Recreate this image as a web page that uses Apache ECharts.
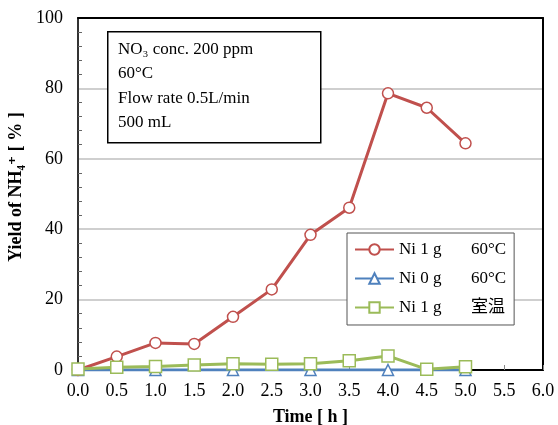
<!DOCTYPE html>
<html>
<head>
<meta charset="utf-8">
<script src="https://cdn.jsdelivr.net/npm/echarts@6/dist/echarts.min.js"></script>
<style>
  html, body { margin: 0; padding: 0; background: #fff; }
  #chart { width: 558px; height: 425px; }
</style>
</head>
<body>
<div id="chart"></div>
<script>
// data
const timesA = [0, 0.5, 1.0, 1.5, 2.0, 2.5, 3.0, 3.5, 4.0, 4.5, 5.0];
const ni1g60 = [0, 3.8, 7.7, 7.4, 15.1, 22.9, 38.4, 46.1, 78.6, 74.5, 64.4];
const timesB = [0, 1.0, 2.0, 3.0, 4.0, 5.0];
const ni0g60 = [0, 0, 0, 0, 0, 0];
const ni1gRT = [0.3, 0.8, 1.0, 1.4, 1.8, 1.6, 1.8, 2.6, 4.0, 0.2, 0.9];
const xTicks = ['0.0', '0.5', '1.0', '1.5', '2.0', '2.5', '3.0', '3.5', '4.0', '4.5', '5.0', '5.5', '6.0'];
const seriesNames = ['Ni 1 g 60°C', 'Ni 0 g 60°C', 'Ni 1 g 室温'];
const noteLines = ['NO₃ conc. 200 ppm', '60°C', 'Flow rate 0.5L/min', '500 mL'];

const serif = '"Liberation Serif", "DejaVu Serif", "Noto Sans CJK JP", serif';

function pairs(xs, ys) {
  return xs.map((x, i) => [x, ys[i]]);
}

const chart = echarts.init(document.getElementById('chart'));
let option = {
  animation: false,
  color: ['#C0504D', '#4F81BD', '#9BBB59'],
  grid: { left: 78, right: 15, top: 18, bottom: 55, outerBoundsMode: 'none' },
  xAxis: [
    {
      type: 'value',
      min: 0,
      max: 6,
      interval: 0.5,
      name: 'Time [ h ]',
      nameLocation: 'middle',
      nameGap: 38,
      nameTextStyle: { fontFamily: serif, fontSize: 18, fontWeight: 'bold', color: '#000' },
      axisLine: { onZero: false, lineStyle: { color: '#000', width: 2 } },
      axisTick: { show: true, inside: true, length: 5, lineStyle: { color: '#888' } },
      splitLine: { show: false },
      axisLabel: {
        fontFamily: serif, fontSize: 18, color: '#000', margin: 12,
        formatter: v => xTicks[Math.round(v * 2)]
      }
    },
    {
      type: 'value',
      min: 0,
      max: 6,
      position: 'top',
      axisLine: { show: true, onZero: false, lineStyle: { color: '#000', width: 2 } },
      axisTick: { show: false },
      axisLabel: { show: false },
      splitLine: { show: false }
    }
  ],
  yAxis: [
    {
      type: 'value',
      min: 0,
      max: 100,
      interval: 20,
      name: 'Yield of NH₄⁺ [ % ]',
      nameLocation: 'middle',
      nameGap: 51,
      nameTextStyle: { fontFamily: serif, fontSize: 18, fontWeight: 'bold', color: '#000', padding: [0, 0, 0, 14] },
      axisLine: { show: true, onZero: false, lineStyle: { color: '#333', width: 2 } },
      axisTick: { show: false, inside: true },
      minorTick: { show: true, splitNumber: 5, length: 4, lineStyle: { color: '#666' } },
      splitLine: { lineStyle: { color: '#bfbfbf', width: 1.5 } },
      axisLabel: { fontFamily: serif, fontSize: 18, color: '#000', margin: 15 }
    },
    {
      type: 'value',
      min: 0,
      max: 100,
      interval: 20,
      position: 'right',
      axisLine: { show: true, onZero: false, lineStyle: { color: '#000', width: 2 } },
      axisTick: { show: false },
      axisLabel: { show: false },
      splitLine: { show: false }
    }
  ],
  legend: {
    data: seriesNames,
    orient: 'vertical',
    left: 347,
    top: 233,
    padding: [8, 8, 9, 7],
    itemGap: 12,
    itemWidth: 39,
    itemHeight: 13,
    backgroundColor: '#fff',
    borderColor: '#555',
    borderWidth: 1,
    formatter: name => {
      const parts = name.split(' ');
      return '{a|' + parts.slice(0, 3).join(' ') + '}{b|' + parts[3] + '}';
    },
    textStyle: {
      rich: {
        a: { fontFamily: serif, fontSize: 17, color: '#000', width: 72, lineHeight: 18 },
        b: { fontFamily: serif, fontSize: 17, color: '#000', lineHeight: 18 }
      }
    }
  },
  graphic: [
    {
      type: 'rect',
      left: 107,
      top: 31,
      shape: { width: 213, height: 111 },
      style: { fill: '#fff', stroke: '#000', lineWidth: 1.5 },
      z: 10
    },
    {
      type: 'text',
      left: 118,
      top: 37,
      style: {
        text: noteLines.join('\n'),
        font: '17px ' + serif,
        lineHeight: 24.5,
        fill: '#000'
      },
      z: 11
    }
  ],
  series: [
    {
      name: seriesNames[0],
      type: 'line',
      data: pairs(timesA, ni1g60),
      symbol: 'circle',
      symbolSize: 11,
      lineStyle: { width: 3, color: '#C0504D' },
      itemStyle: { color: '#fff', borderColor: '#C0504D', borderWidth: 1.5 },
      z: 3
    },
    {
      name: seriesNames[1],
      type: 'line',
      data: pairs(timesB, ni0g60),
      symbol: 'triangle',
      symbolSize: 11,
      lineStyle: { width: 3, color: '#4F81BD' },
      itemStyle: { color: '#fff', borderColor: '#4F81BD', borderWidth: 1.5 },
      z: 2
    },
    {
      name: seriesNames[2],
      type: 'line',
      data: pairs(timesA, ni1gRT),
      symbol: 'rect',
      symbolSize: 12,
      lineStyle: { width: 3, color: '#9BBB59' },
      itemStyle: { color: '#fff', borderColor: '#9BBB59', borderWidth: 1.5 },
      z: 4
    }
  ]
};
chart.setOption(option);
</script>
</body>
</html>
